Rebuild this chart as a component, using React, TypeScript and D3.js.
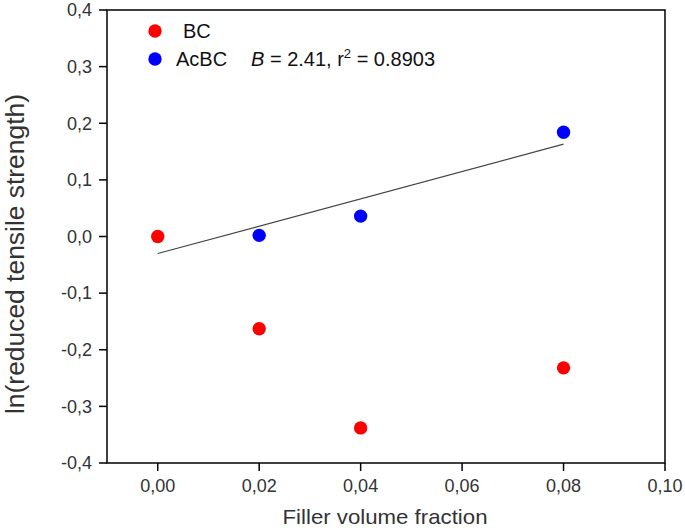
import React from "react";
import * as d3 from "d3";

const bcX = [0.0, 0.02, 0.04, 0.08];
const bcY = [0.0, -0.163, -0.338, -0.232];
const acX = [0.02, 0.04, 0.08];
const acY = [0.002, 0.036, 0.184];
const fitX = [0.0, 0.08];
const fitY = [-0.03, 0.163];
const xTicks = [0, 0.02, 0.04, 0.06, 0.08, 0.1];
const yTicks = [-0.4, -0.3, -0.2, -0.1, 0, 0.1, 0.2, 0.3, 0.4];

const W = 685, H = 530;
const L = 107, R = 665, T = 10, B = 463;

export default function App() {
  const x = d3.scaleLinear().domain([-0.01, 0.1]).range([L, R]);
  const y = d3.scaleLinear().domain([-0.4, 0.4]).range([B, T]);
  const fmtX = (v: number) => v.toFixed(2).replace(".", ",");
  const fmtY = (v: number) => v.toFixed(1).replace(".", ",").replace("-0,0", "0,0");
  const line = d3.line<number>().x((_, i) => x(fitX[i])).y((d) => y(d));
  const font = "Liberation Sans, Arial, sans-serif";
  const txt = "#333";
  return (
    <svg width={W} height={H} style={{ position: "absolute", left: 0, top: 0 }} fontFamily={font}>
      <rect x={0} y={0} width={W} height={H} fill="#fff" />
      <rect x={L} y={T} width={R - L} height={B - T} fill="none" stroke="#000" strokeWidth={1.5} />
      {yTicks.map((v) => (
        <g key={"y" + v}>
          <line x1={L - 8} x2={L} y1={y(v)} y2={y(v)} stroke="#000" strokeWidth={1.5} />
          <text x={L - 15} y={y(v)} dy="0.35em" textAnchor="end" fontSize={18} fill={txt}>{fmtY(v)}</text>
        </g>
      ))}
      {xTicks.map((v) => (
        <g key={"x" + v}>
          <line x1={x(v)} x2={x(v)} y1={B} y2={B + 8} stroke="#000" strokeWidth={1.5} />
          <text x={x(v)} y={B + 29} textAnchor="middle" fontSize={18} fill={txt}>{fmtX(v)}</text>
        </g>
      ))}
      <text x={385} y={524} textAnchor="middle" fontSize={21} textLength={205} lengthAdjust="spacingAndGlyphs" fill={txt}>Filler volume fraction</text>
      <text transform={`translate(24,254) rotate(-90)`} textAnchor="middle" fontSize={25} textLength={320} lengthAdjust="spacingAndGlyphs" fill={txt}>ln(reduced tensile strength)</text>
      <path d={line(fitY) || ""} fill="none" stroke="#444" strokeWidth={1.2} />
      {bcX.map((v, i) => (
        <circle key={"b" + i} cx={x(v)} cy={y(bcY[i])} r={6.7} fill="#ff0000" />
      ))}
      {acX.map((v, i) => (
        <circle key={"a" + i} cx={x(v)} cy={y(acY[i])} r={6.7} fill="#0000ff" />
      ))}
      <circle cx={155} cy={31} r={6.7} fill="#ff0000" />
      <circle cx={155} cy={59} r={6.7} fill="#0000ff" />
      <text x={183} y={38} fontSize={20} fill="#111">BC</text>
      <text x={176} y={66} fontSize={20} fill="#111">AcBC</text>
      <text x={251} y={66} fontSize={20} fill="#111">
        <tspan fontStyle="italic">B</tspan>
        <tspan> = 2.41, r</tspan>
        <tspan fontSize={13} dy={-8}>2</tspan>
        <tspan dy={8}> = 0.8903</tspan>
      </text>
    </svg>
  );
}
